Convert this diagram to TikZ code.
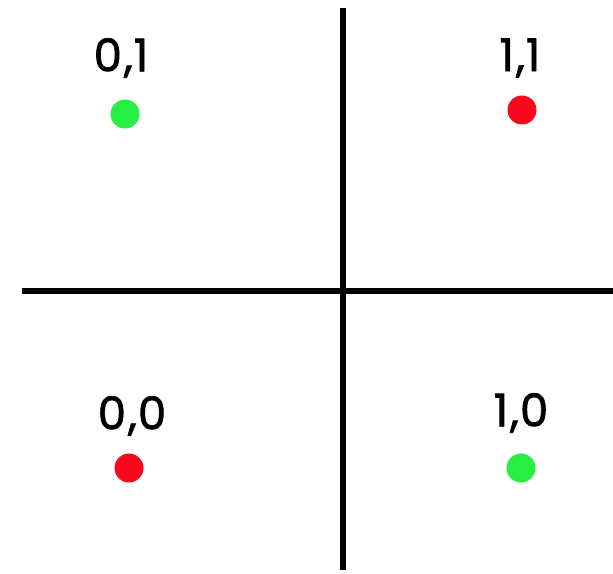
\documentclass[tikz,border=0pt]{standalone}
\usepackage{fontspec}
\setmainfont{Poppins}[FakeBold=1.6]
\definecolor{ptgreen}{RGB}{38,238,66}
\definecolor{ptred}{RGB}{248,8,28}
\tikzset{
  axis/.style={line width=5.5pt, black},
  dot/.style={circle, fill=#1, inner sep=0pt, minimum size=29pt},
  lbl/.style={font=\fontsize{45}{48}\selectfont}
}
\begin{document}
\begin{tikzpicture}[x=1pt,y=1pt]
    \useasboundingbox (0,0) rectangle (613,573);
    % assi
    \coordinate (ytop) at (343,565);
    \coordinate (ybot) at (343,3);
    \coordinate (xleft) at (22,282);
    \coordinate (xright) at (613,282);
    \draw[axis] (ytop) -- (ybot);
    \draw[axis] (xleft) -- (xright);
    % punti
    \node[dot=ptgreen] (p01) at (125,459) {};
    \node[dot=ptred] (p11) at (522,463) {};
    \node[dot=ptred] (p00) at (129,105) {};
    \node[dot=ptgreen] (p10) at (521,105) {};
    % etichette
    \node[lbl] (l01) at (121,515) {0\kern2pt,\kern1pt1};
    \node[lbl] (l11) at (520,515) {1\kern2pt,\kern1pt1};
    \node[lbl] (l00) at (132,157) {0\kern2pt,\kern1pt0};
    \node[lbl] (l10) at (521,160) {1\kern2pt,\kern1pt0};
\end{tikzpicture}
\end{document}
